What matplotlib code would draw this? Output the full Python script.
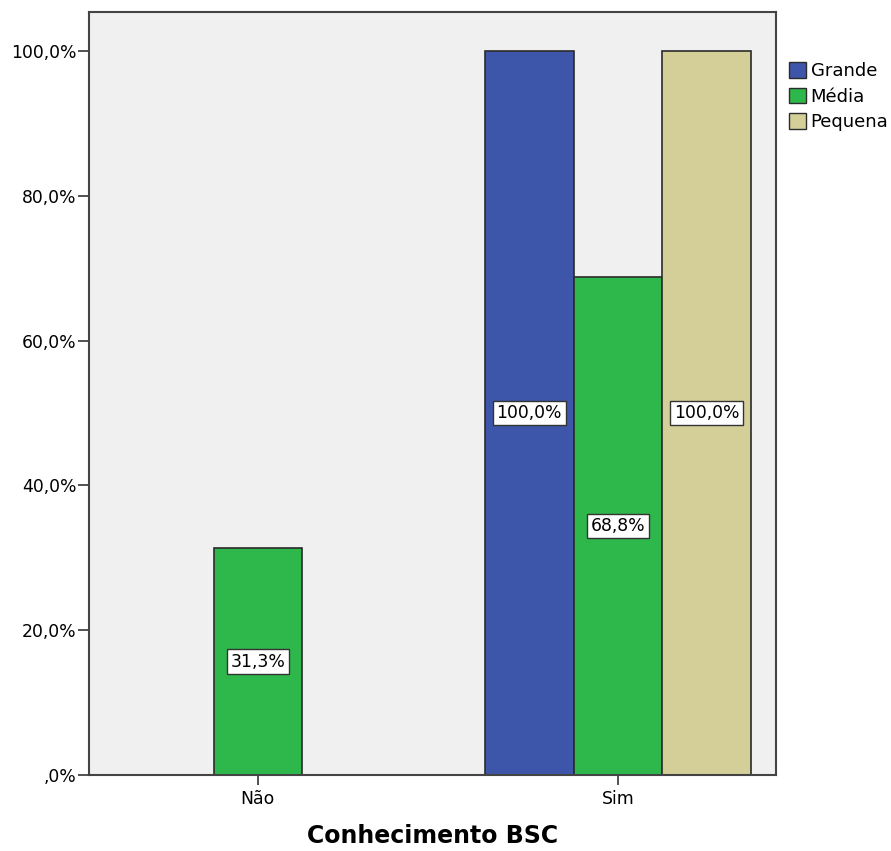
import matplotlib.pyplot as plt
from matplotlib.patches import Patch
from matplotlib.ticker import FuncFormatter

plt.rcParams["font.family"] = ["DejaVu Sans"]

# Percent of companies by size, grouped by BSC knowledge
categories = ["Não", "Sim"]
series = ["Grande", "Média", "Pequena"]
values = {
    "Grande": [0.0, 100.0],
    "Média": [31.3, 68.8],
    "Pequena": [0.0, 100.0],
}
colors = {"Grande": "#3d56a9", "Média": "#2eb84b", "Pequena": "#d4cf99"}

fig = plt.figure(figsize=(8.91, 8.51), dpi=100)
ax = fig.add_axes([89 / 891, 76 / 851, 687 / 891, 763 / 851])
ax.set_facecolor("#f0f0f0")

width = 0.246
for i, cat in enumerate(categories):
    # only non-empty series are drawn, centred on the category
    present = [s for s in series if values[s][i] > 0]
    n = len(present)
    for j, s in enumerate(present):
        x = i + (j - (n - 1) / 2) * width
        v = values[s][i]
        ax.bar(x, v, width, color=colors[s], edgecolor="#2b2b2b", linewidth=1.2, zorder=2)
        ax.text(x, v / 2, f"{v:.1f}%".replace(".", ","), ha="center", va="center",
                fontsize=12.4, zorder=3,
                bbox=dict(boxstyle="square,pad=0.2", fc="white", ec="#333333", lw=1))

ax.set_xlim(-0.469, 1.439)
ax.set_ylim(0, 105.4)
ax.set_xticks(range(len(categories)))
ax.set_xticklabels(categories, fontsize=12.4)
ax.set_yticks([0, 20, 40, 60, 80, 100])
ax.yaxis.set_major_formatter(FuncFormatter(
    lambda v, p: ",0%" if v == 0 else f"{v:.1f}%".replace(".", ",")))
ax.tick_params(axis="y", labelsize=12.4, length=8, width=1.2, color="#333333", pad=1)
ax.tick_params(axis="x", length=7, width=1.2, color="#333333", pad=4)
for sp in ax.spines.values():
    sp.set_color("#444444")
    sp.set_linewidth(1.5)
ax.set_xlabel("Conhecimento BSC", fontsize=17, fontweight="bold", labelpad=11)

handles = [Patch(facecolor=colors[s], edgecolor="#2b2b2b", label=s) for s in series]
fig.legend(handles=handles, loc="upper left", bbox_to_anchor=(789 / 891, 1 - 62 / 851),
           frameon=False, fontsize=13, handlelength=0.95, handleheight=0.95,
           handletextpad=0.25, labelspacing=0.42, borderaxespad=0, borderpad=0)

fig.savefig("out.png", dpi=100)
